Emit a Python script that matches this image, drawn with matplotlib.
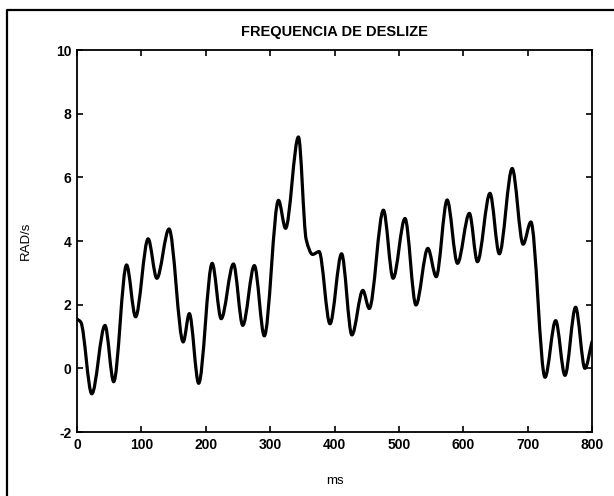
import numpy as np
import matplotlib
matplotlib.use("Agg")
from matplotlib import pyplot as plt
from matplotlib.path import Path
from matplotlib.patches import PathPatch
from matplotlib.lines import Line2D

# peaks / valleys / bends
tempo_ms = [0, 6, 23, 43.5, 57, 77, 91, 110.5, 124, 143, 165, 174.5, 189, 210, 224,
            243, 257.5, 275.5, 291, 313, 324, 344, 356, 366, 376, 393, 411, 427, 444,
            454, 476, 491, 509.5, 526.5, 545, 558, 575, 591, 609.5, 622, 641.5, 656,
            676, 693, 705, 727, 743.5, 758, 774.5, 789, 800]
freq_rad = [1.55, 1.45, -0.8, 1.35, -0.42, 3.25, 1.62, 4.07, 2.83, 4.38, 0.83, 1.72, -0.47,
            3.3, 1.56, 3.28, 1.35, 3.23, 1.02, 5.28, 4.4, 7.27, 4.05, 3.58, 3.67, 1.4,
            3.6, 1.05, 2.45, 1.88, 4.97, 2.83, 4.71, 1.99, 3.77, 2.88, 5.29, 3.3, 4.87,
            3.35, 5.5, 3.6, 6.28, 3.9, 4.6, -0.28, 1.5, -0.22, 1.92, 0.0, 0.84]

xticks = [0, 100, 200, 300, 400, 500, 600, 700, 800]
yticks = [-2, 0, 2, 4, 6, 8, 10]

plt.rcParams['font.family'] = ['Liberation Sans', 'DejaVu Sans']


def slopes(x, y):
    # flat at peaks/valleys, harmonic mean of secants elsewhere
    x = np.asarray(x, float)
    y = np.asarray(y, float)
    d = np.diff(y) / np.diff(x)
    m = np.zeros(len(x))
    m[0] = d[0]
    m[-1] = d[-1]
    for i in range(1, len(x) - 1):
        if d[i - 1] * d[i] > 0:
            m[i] = 2.0 / (1.0 / d[i - 1] + 1.0 / d[i])
    return x, y, m


def bezier_path(xs, ys):
    x, y, m = slopes(xs, ys)
    verts = [(x[0], y[0])]
    codes = [Path.MOVETO]
    for i in range(len(x) - 1):
        h = x[i + 1] - x[i]
        verts += [(x[i] + h / 3, y[i] + m[i] * h / 3),
                  (x[i + 1] - h / 3, y[i + 1] - m[i + 1] * h / 3),
                  (x[i + 1], y[i + 1])]
        codes += [Path.CURVE4] * 3
    return Path(verts, codes)


fig = plt.figure(figsize=(6.14, 4.96), dpi=100)
ax = fig.add_axes([0.1254, 0.129, 0.8388, 0.770])

ax.add_patch(PathPatch(bezier_path(tempo_ms, freq_rad), facecolor='none',
                       edgecolor='black', lw=2.3, capstyle='round', joinstyle='round'))

ax.set_xlim(0, 800)
ax.set_ylim(-2, 10)
ax.set_xticks(xticks)
ax.set_yticks(yticks)
ax.set_xticklabels([str(v) for v in xticks], fontweight='bold', fontsize=10)
ax.set_yticklabels([str(v) for v in yticks], fontweight='bold', fontsize=10)
ax.tick_params(direction='in', length=4, width=1.2, top=True, right=True, pad=4)
for s in ax.spines.values():
    s.set_linewidth(1.3)

ax.set_title("FREQUENCIA DE DESLIZE", fontsize=10.5, fontweight='bold', pad=10)
ax.set_xlabel("ms", fontsize=9.5, labelpad=17)
ax.set_ylabel("RAD/s", fontsize=9.5, labelpad=17)

# outer frame of the scanned page
fig.add_artist(Line2D([0.0114, 0.0114, 1.0], [0.0, 0.98, 0.98],
                      transform=fig.transFigure, color='black', lw=1.6))

plt.savefig("out.png", dpi=100)
